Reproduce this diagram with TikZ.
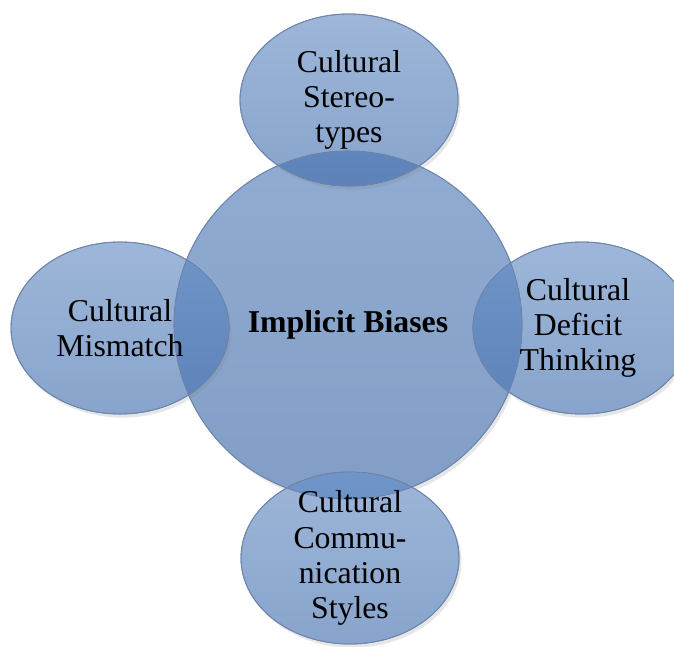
\documentclass[tikz,border=0pt]{standalone}
\usepackage{fontspec}
\setmainfont{Liberation Serif}
\usetikzlibrary{shapes,shadows}

\definecolor{satTop}{HTML}{9DB6D9}
\definecolor{satBot}{HTML}{88A4CC}
\definecolor{hubTop}{HTML}{91ACD2}
\definecolor{hubBot}{HTML}{839EC6}
\definecolor{lensTop}{HTML}{7095C8}
\definecolor{lensBot}{HTML}{5D82B9}
\definecolor{rim}{HTML}{6E86AB}

\begin{document}
\begin{tikzpicture}[
      x=0.025cm, y=-0.025cm,
      mynode/.style = {draw=rim, line width=0.6pt, inner sep=0pt,
        drop shadow={opacity=0.2, shadow xshift=0.6mm, shadow yshift=-0.9mm}},
      hub/.style = {mynode, circle, minimum size=8.7cm, top color=hubTop, bottom color=hubBot},
      sat/.style = {mynode, ellipse, minimum width=5.45cm, minimum height=4.3cm, top color=satTop, bottom color=satBot},
      lens/.style = {top color=lensTop, bottom color=lensBot},
      outline/.style = {draw=rim, line width=0.6pt},
      txt/.style = {align=center, font=\fontsize{22.6}{25}\selectfont}
      ]
      \useasboundingbox (0,0) rectangle (674,646);

      \node[hub] (hub) at (348,325) {};
      \node[sat] (stereo) at (349,100) {};
      \node[sat] (mismatch) at (120,328) {};
      \node[sat] (deficit) at (582,328) {};
      \node[sat] (styles) at (350,558) {};

      \foreach \n in {stereo,mismatch,deficit,styles}{
        \begin{scope}
          \clip (hub.center) circle (4.35cm);
          \fill[lens] (\n.center) ellipse [x radius=2.725cm, y radius=2.15cm];
        \end{scope}
        \draw[outline] (\n.center) ellipse [x radius=2.725cm, y radius=2.15cm];
      }
      \draw[outline] (hub.center) circle (4.35cm);

      \node[txt] (hubtxt) at (hub) {\bfseries Implicit Biases};
      \node[txt] (stereotxt) at (stereo) {Cultural\\Stereo-\\types};
      \node[txt] (mismatchtxt) at (mismatch) {Cultural\\Mismatch};
      \node[txt] (deficittxt) at ([xshift=-0.1cm]deficit) {Cultural\\Deficit\\Thinking};
      \node[txt] (stylestxt) at (styles) {Cultural\\Commu-\\nication\\Styles};
    \end{tikzpicture}
\end{document}
